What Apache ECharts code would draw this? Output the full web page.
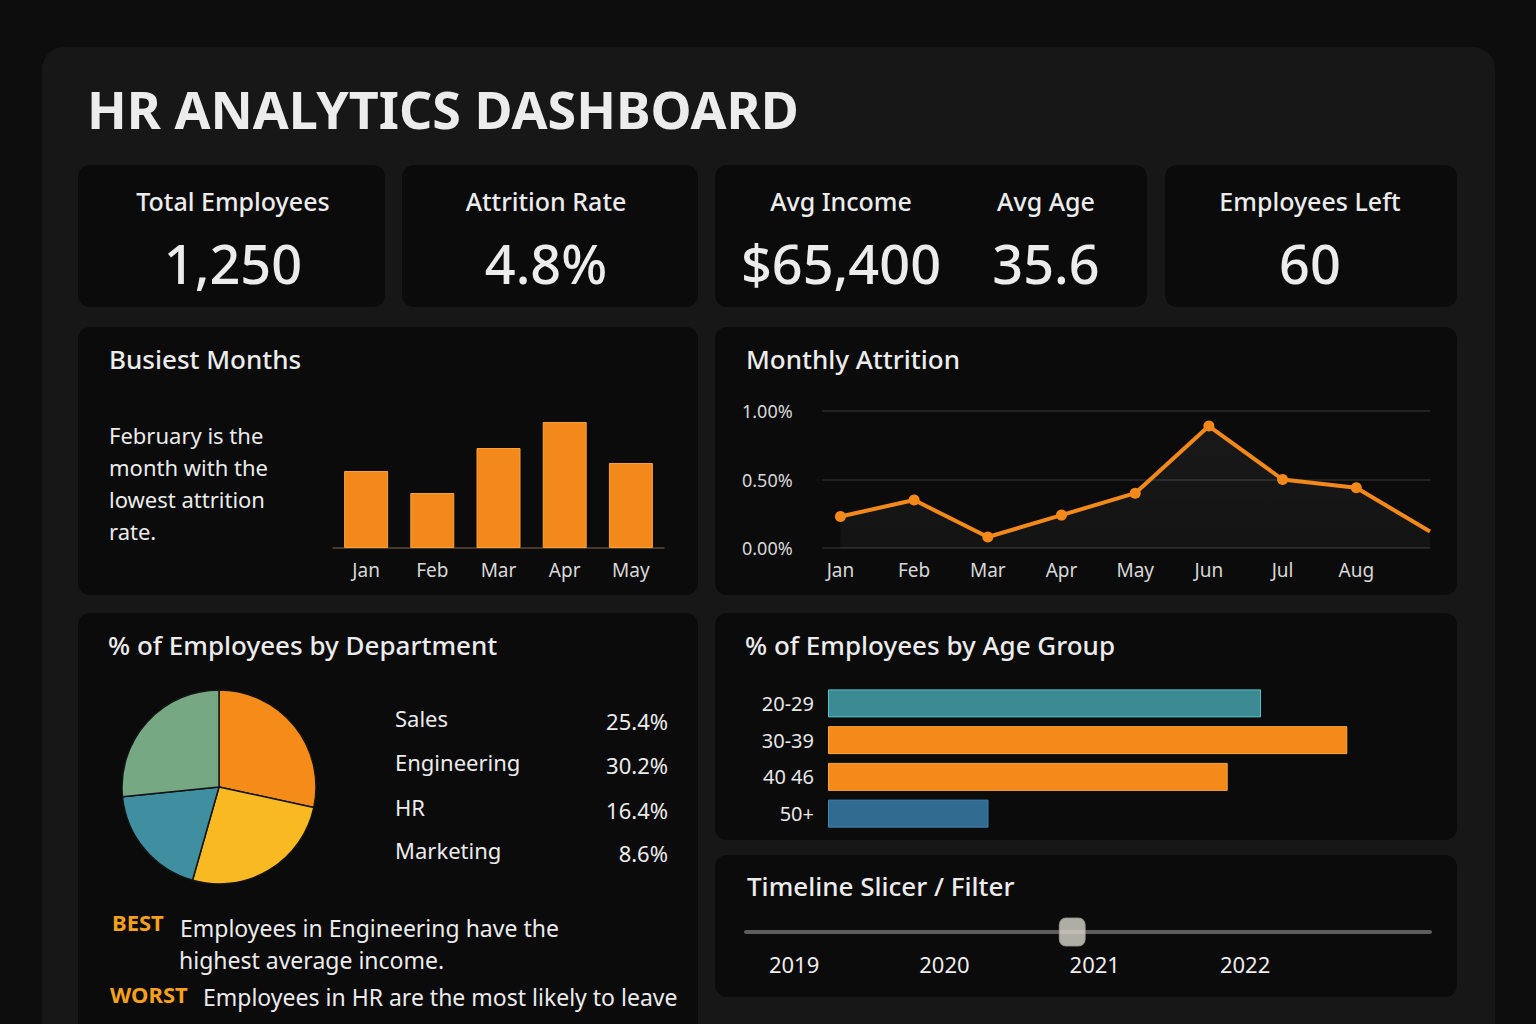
<!DOCTYPE html>
<html>
<head>
<meta charset="utf-8">
<title>HR Analytics Dashboard</title>
<script src="https://cdn.jsdelivr.net/npm/echarts@6/dist/echarts.min.js"></script>
<style>
  html, body { margin: 0; padding: 0; background: #0d0d0d; }
  #main { width: 1536px; height: 1024px; }
</style>
</head>
<body>
<div id="main"></div>
<script>
// KPI cards
const kpiLabels = ['Total Employees', 'Attrition Rate', 'Avg Income', 'Avg Age', 'Employees Left']
const kpiValues = ['1,250', '4.8%', '$65,400', '35.6', '60']

// busiest months
const busyMonths = ['Jan', 'Feb', 'Mar', 'Apr', 'May']
const busyValues = [77, 55, 100, 126, 85]
const busyNote = ['February is the', 'month with the', 'lowest attrition', 'rate.']

// monthly attrition (%), last point has no label
const attrMonths = ['Jan', 'Feb', 'Mar', 'Apr', 'May', 'Jun', 'Jul', 'Aug']
const attrRates = [0.23, 0.35, 0.08, 0.24, 0.40, 0.89, 0.50, 0.44, 0.12]

// department
const deptNames = ['Sales', 'Engineering', 'HR', 'Marketing']
const deptPct = ['25.4%', '30.2%', '16.4%', '8.6%']
const pieShares = [28.4, 26.0, 19.0, 26.6]

// age groups
const ageGroups = ['20-29', '30-39', '40 46', '50+']
const agePct = [28.6, 34.3, 26.4, 10.6]

// timeline slicer
const years = [2019, 2020, 2021, 2022]
const sliderYear = 2020.85

const FONT = '"Noto Sans", sans-serif'
const TXT = '#ececec'
const ORANGE = '#f4891b'

const pieColors = ['#f58c1a', '#f8b923', '#3f8fa1', '#76a883']
const ageColors = ['#3d8b92', '#f5891a', '#f5891a', '#316b8f']
const ageBorders = ['#56c2cc', '#f9a53a', '#f9a53a', '#3f87b5']

function text(x, y, str, size, opts) {
  return {
    type: 'text',
    style: {
      x: x, y: y, text: str,
      fill: TXT,
      font: (opts && opts.weight || 'normal') + ' ' + size + 'px ' + FONT,
      textAlign: (opts && opts.align) || 'left',
      textVerticalAlign: 'middle'
    }
  }
}
function card(x, y, w, h) {
  return { type: 'rect', z: -5, shape: { x: x, y: y, width: w, height: h, r: 12 }, style: { fill: '#0b0b0b' } }
}

const graphic = [
  { type: 'rect', z: -10, shape: { x: 42, y: 47, width: 1453, height: 1010, r: 22 }, style: { fill: '#171717' } },
  card(78, 165, 307, 142),
  card(402, 165, 296, 142),
  card(715, 165, 432, 142),
  card(1165, 165, 292, 142),
  card(78, 327, 620, 268),
  card(715, 327, 742, 268),
  card(78, 613, 620, 430),
  card(715, 613, 742, 227),
  card(715, 855, 742, 142),
  text(87, 108, 'HR ANALYTICS DASHBOARD', 52, { weight: 'bold' })
]

// kpi texts
const kpiX = [233, 546, 841, 1046, 1310]
kpiLabels.forEach((l, i) => {
  graphic.push(text(kpiX[i], 201, l, 25, { align: 'center', weight: 500 }))
  graphic.push(text(kpiX[i], 263, kpiValues[i], 54, { align: 'center', weight: 500 }))
})

// section titles
graphic.push(text(109, 359, 'Busiest Months', 26, { weight: 500 }))
graphic.push(text(746, 359, 'Monthly Attrition', 26, { weight: 500 }))
graphic.push(text(108, 645, '% of Employees by Department', 26, { weight: 500 }))
graphic.push(text(745, 645, '% of Employees by Age Group', 26, { weight: 500 }))
graphic.push(text(747, 886, 'Timeline Slicer / Filter', 26, { weight: 500 }))

busyNote.forEach((l, i) => graphic.push(text(109, 435 + i * 32, l, 22)))

deptNames.forEach((n, i) => {
  const y = [718, 762, 807, 850][i]
  graphic.push(text(395, y, n, 22))
  graphic.push(text(668, y + 3, deptPct[i], 22, { align: 'right' }))
})

graphic.push({ type: 'text', style: { x: 112, y: 922, text: 'BEST', fill: '#f6a11d', font: 'bold 22px ' + FONT, textVerticalAlign: 'middle' } })
graphic.push(text(180, 928, 'Employees in Engineering have the', 23))
graphic.push(text(179, 960, 'highest average income.', 23))
graphic.push({ type: 'text', style: { x: 110, y: 994, text: 'WORST', fill: '#f6a11d', font: 'bold 22px ' + FONT, textVerticalAlign: 'middle' } })
graphic.push(text(203, 997, 'Employees in HR are the most likely to leave', 23))

const axisText = { color: '#d8d8d8', fontSize: 19, fontFamily: FONT }

const option = {
  backgroundColor: '#0d0d0d',
  animation: false,
  graphic: graphic,
  grid: [
    { left: 333, top: 398, width: 331, height: 150 },
    { left: 822, top: 411, width: 608, height: 137 },
    { left: 828, top: 685, width: 605.6, height: 147 },
    { left: 746, top: 931, width: 684, height: 2 }
  ],
  xAxis: [
    {
      gridIndex: 0, type: 'category', data: busyMonths,
      axisLine: { lineStyle: { color: '#5b4a38', width: 1.5 } },
      axisTick: { show: false },
      axisLabel: Object.assign({ margin: 12 }, axisText)
    },
    {
      gridIndex: 1, type: 'value', min: -0.25, max: 8,
      axisLine: { show: false }, axisTick: { show: false }, splitLine: { show: false },
      axisLabel: Object.assign({
        margin: 12,
        customValues: attrMonths.map((m, i) => i),
        formatter: v => attrMonths[v]
      }, axisText)
    },
    {
      gridIndex: 2, type: 'value', min: 0, max: 40, show: false
    },
    {
      gridIndex: 3, type: 'value', min: 2018.68, max: 2023.23,
      axisLine: { lineStyle: { color: '#5d5d5d', width: 4 } },
      axisTick: { show: false }, splitLine: { show: false },
      axisLabel: {
        customValues: years, margin: 20,
        color: '#eeeeee', fontSize: 22, fontFamily: FONT,
        formatter: v => String(v)
      }
    }
  ],
  yAxis: [
    { gridIndex: 0, type: 'value', min: 0, max: 150, show: false },
    {
      gridIndex: 1, type: 'value', min: 0, max: 1, interval: 0.5,
      axisLine: { show: false }, axisTick: { show: false },
      splitLine: { lineStyle: { color: '#2b2b2b', width: 1.5 } },
      axisLabel: Object.assign({ align: 'left', margin: 80, formatter: v => v.toFixed(2) + '%' }, axisText, { fontSize: 18 })
    },
    {
      gridIndex: 2, type: 'category', data: ageGroups, inverse: true,
      axisLine: { show: false }, axisTick: { show: false },
      axisLabel: Object.assign({ margin: 14 }, axisText, { color: '#e6e6e6', fontSize: 20 })
    },
    { gridIndex: 3, type: 'value', min: -1, max: 1, show: false }
  ],
  series: [
    {
      type: 'bar', xAxisIndex: 0, yAxisIndex: 0,
      data: busyValues, barWidth: 44,
      itemStyle: { color: ORANGE, borderColor: '#f9a23a', borderWidth: 1 }
    },
    {
      type: 'line', xAxisIndex: 1, yAxisIndex: 1,
      data: attrRates.map((v, i) => i < attrMonths.length ? [i, v] : { value: [i, v], symbol: 'none' }),
      symbol: 'circle', symbolSize: 11,
      lineStyle: { color: ORANGE, width: 4 },
      itemStyle: { color: ORANGE },
      areaStyle: {
        color: new echarts.graphic.LinearGradient(0, 0, 0, 1, [
          { offset: 0, color: 'rgba(255,255,255,0.08)' },
          { offset: 1, color: 'rgba(255,255,255,0.05)' }
        ])
      }
    },
    {
      type: 'bar', xAxisIndex: 2, yAxisIndex: 2, barWidth: 28,
      data: agePct.map((v, i) => ({
        value: v,
        itemStyle: { color: ageColors[i], borderColor: ageBorders[i], borderWidth: 1 }
      }))
    },
    {
      type: 'scatter', xAxisIndex: 3, yAxisIndex: 3,
      data: [[sliderYear, 0]],
      symbol: 'roundRect', symbolSize: [26, 28],
      itemStyle: { color: '#d9d6cc', borderColor: '#9a978f', borderWidth: 1 },
      z: 5
    },
    {
      type: 'pie', center: [219, 787], radius: 97,
      startAngle: 90, clockwise: true,
      label: { show: false }, labelLine: { show: false },
      emphasis: { disabled: true },
      data: pieShares.map((v, i) => ({ name: deptNames[i], value: v, itemStyle: { color: pieColors[i] } })),
      itemStyle: { borderColor: '#141414', borderWidth: 1.5 }
    }
  ]
}

const myChart = echarts.init(document.getElementById('main'), null, { renderer: 'svg' })
myChart.setOption(option)
window.addEventListener('resize', () => {
  if (myChart) myChart.resize()
})
</script>
</body>
</html>
